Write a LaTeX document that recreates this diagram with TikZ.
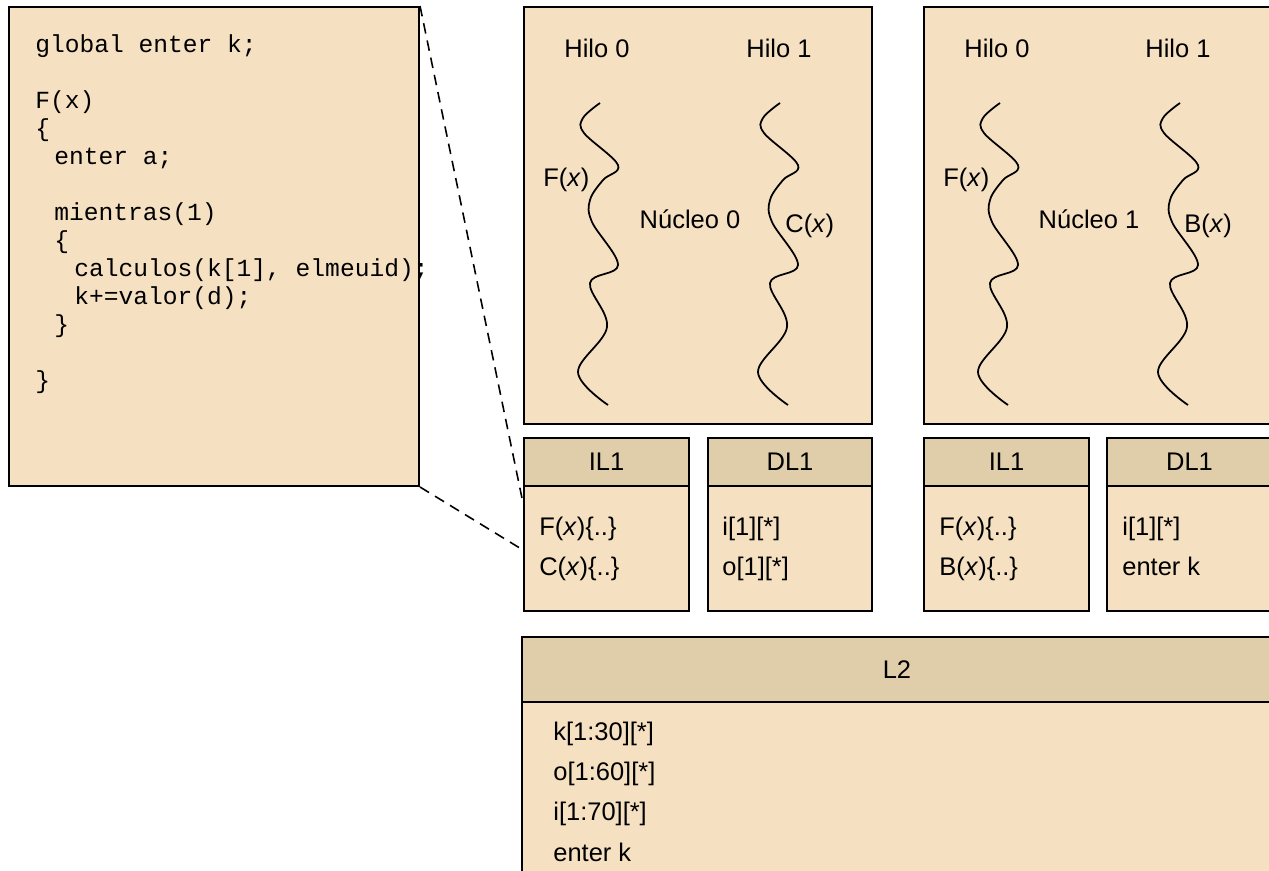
\documentclass[tikz,border=0pt]{standalone}
\usepackage{fontspec}
\setmainfont{Liberation Sans}
\setmonofont{Liberation Mono}
\usetikzlibrary{positioning}

\definecolor{bodyfill}{HTML}{F5E1C2}
\definecolor{headfill}{HTML}{E0CDAA}

\newcommand{\lblsize}{\fontsize{14.5}{17}\selectfont}
\newcommand{\codesize}{\fontsize{14}{17}\selectfont}
% one thread of a core, moved right by #1
\newcommand{\hilo}[1]{%
  \draw[thread, shift={(#1,0)}] plot[smooth, tension=0.6] coordinates
    {(600,103) (583,118) (584,133) (618,165) (603,180) (590,200) (592,222)
     (618,265) (590,283) (607,327) (578,372) (608,405)};}

\begin{document}
\begin{tikzpicture}[x=0.02cm, y=-0.02cm]
  \tikzset{
    box/.style={draw=black, line width=1.2pt, fill=bodyfill, inner sep=0pt, anchor=north west},
    headbox/.style={box, fill=headfill, font=\lblsize},
    lbl/.style={font=\lblsize, inner sep=0pt, anchor=base},
    item/.style={lbl, anchor=base west},
    codeline/.style={font=\ttfamily\codesize, inner sep=0pt, anchor=base west},
    thread/.style={line width=1pt},
    zoomline/.style={dashed, line width=0.9pt, dash pattern=on 6pt off 4pt}
  }
  \useasboundingbox (0,0) rectangle (1269,870);

  % code of the program
  \node[box, minimum width=8.2cm, minimum height=9.58cm] (code) at (8,6) {};
  \node[codeline] (c1) at (35,52) {global enter k;};
  \node[codeline] (c2) at (35,108) {F(x)};
  \node[codeline] (c3) at (35,136) {\{};
  \node[codeline] (c4) at (54,164) {enter a;};
  \node[codeline] (c5) at (54,220) {mientras(1)};
  \node[codeline] (c6) at (54,248) {\{};
  \node[codeline] (c7) at (74,276) {calculos(k[1], elmeuid);};
  \node[codeline] (c8) at (74,304) {k+=valor(d);};
  \node[codeline] (c9) at (54,332) {\}};
  \node[codeline] (c10) at (35,388) {\}};

  % cores
  \node[box, minimum width=6.96cm, minimum height=8.34cm] (core0) at (523,6) {};
  \node[box, minimum width=6.96cm, minimum height=8.34cm] (core1) at (923,6) {};

  \node[lbl] (h00) at (597,57) {Hilo 0};
  \node[lbl] (h01) at (779,57) {Hilo 1};
  \node[lbl] (h10) at (997,57) {Hilo 0};
  \node[lbl] (h11) at (1178,57) {Hilo 1};

  \hilo{0}
  \hilo{180}
  \hilo{400}
  \hilo{580}

  \node[item] (f0) at (543,186) {F(\textit{x})};
  \node[lbl] (n0) at (690,228) {Núcleo 0};
  \node[item] (cx) at (785,232) {C(\textit{x})};
  \node[item] (f1) at (943,186) {F(\textit{x})};
  \node[lbl] (n1) at (1089,228) {Núcleo 1};
  \node[item] (bx) at (1184,232) {B(\textit{x})};

  % first level caches
  \node[box, minimum width=3.3cm, minimum height=3.46cm] (il0) at (523,437) {};
  \node[headbox, minimum width=3.3cm, minimum height=0.96cm] (il0h) at (il0.north west) {IL1};
  \node[box, minimum width=3.28cm, minimum height=3.46cm] (dl0) at (707,437) {};
  \node[headbox, minimum width=3.28cm, minimum height=0.96cm] (dl0h) at (dl0.north west) {DL1};
  \node[box, minimum width=3.3cm, minimum height=3.46cm] (il1) at (923,437) {};
  \node[headbox, minimum width=3.3cm, minimum height=0.96cm] (il1h) at (il1.north west) {IL1};
  \node[box, minimum width=3.3cm, minimum height=3.46cm] (dl1) at (1106,437) {};
  \node[headbox, minimum width=3.3cm, minimum height=0.96cm] (dl1h) at (dl1.north west) {DL1};

  \node[item] (il0a) at (539,535) {F(\textit{x})\{..\}};
  \node[item] (il0b) at (539,575) {C(\textit{x})\{..\}};
  \node[item] (dl0a) at (722,535) {i[1][*]};
  \node[item] (dl0b) at (722,575) {o[1][*]};
  \node[item] (il1a) at (939,535) {F(\textit{x})\{..\}};
  \node[item] (il1b) at (939,575) {B(\textit{x})\{..\}};
  \node[item] (dl1a) at (1122,535) {i[1][*]};
  \node[item] (dl1b) at (1122,575) {enter k};

  % second level cache
  \node[box, minimum width=15cm, minimum height=4.9cm] (l2) at (521,636) {};
  \node[headbox, minimum width=15cm, minimum height=1.3cm] (l2h) at (l2.north west) {L2};
  \node[item] (l2a) at (553,740) {k[1:30][*]};
  \node[item] (l2b) at (553,780) {o[1:60][*]};
  \node[item] (l2c) at (553,820) {i[1:70][*]};
  \node[item] (l2d) at (553,861) {enter k};

  % zoom from the instruction cache to the code
  \coordinate (zA) at (523,503);
  \coordinate (zB) at (523,550);
  \draw[zoomline] (code.north east) -- (zA);
  \draw[zoomline] (code.south east) -- (zB);
\end{tikzpicture}
\end{document}
